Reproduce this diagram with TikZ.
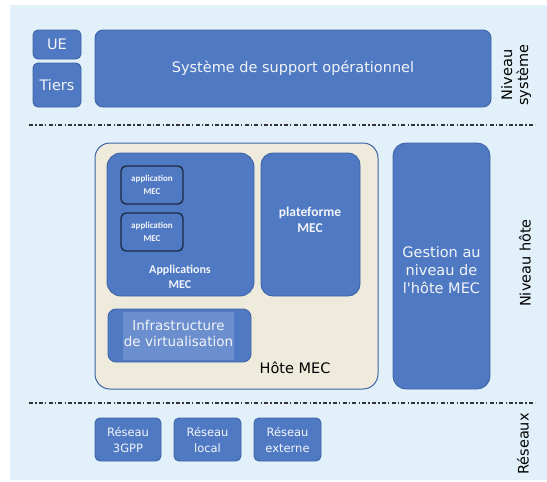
\documentclass[tikz,border=0pt]{standalone}
\usepackage{fontspec}
\setmainfont{DejaVu Sans}
\newfontfamily\droitfont{DejaVu Sans}
\newfontfamily\calfont{Carlito}
\usetikzlibrary{positioning}

\definecolor{fondbleu}{HTML}{E2F1F9}
\definecolor{bleubloc}{HTML}{4F7AC3}
\definecolor{bordbloc}{HTML}{3E63A6}
\definecolor{beigehote}{HTML}{EEEBDC}
\definecolor{bleuclair}{HTML}{6A8ECE}
\definecolor{texteblanc}{HTML}{F2F4F8}
\definecolor{bordsombre}{HTML}{1E2A40}

\begin{document}
\begin{tikzpicture}[
    x=1pt, y=-1pt,
    every node/.style={inner sep=0pt, outer sep=0pt},
    bloc/.style={draw=bordbloc, fill=bleubloc, line width=0.9pt,
                 rounded corners=8pt, text=texteblanc, align=center,
                 font=\fontsize{14.5}{18}\selectfont},
    petitbloc/.style={bloc, rounded corners=5pt},
    appbloc/.style={bloc, draw=bordsombre, line width=1.4pt, rounded corners=5pt,
                    font=\calfont\bfseries\fontsize{9}{12.5}\selectfont},
    titrebloc/.style={text=texteblanc, align=center},
    niveau/.style={rotate=90, align=center, font=\fontsize{14.5}{16}\selectfont},
    separation/.style={draw=black!80, line width=1.1pt,
                       dash pattern=on 4pt off 2.2pt on 1.4pt off 2.2pt}
]
\useasboundingbox (0,0) rectangle (547,482);

% fond
\fill[fondbleu] (10,5) rectangle (547,480);

% Niveau systeme
\node[petitbloc, minimum width=48pt, minimum height=29pt] (ue) at (57,44.5) {UE};
\node[petitbloc, minimum width=48pt, minimum height=44pt] (tiers) at (57,85) {Tiers};
\node[bloc, minimum width=396pt, minimum height=77pt] (sso) at (293,68.5)
    {Système de support opérationnel};
\node[niveau] (nsys) at (516,75) {Niveau\\système};

% Separations
\coordinate (sepA) at (29,125);
\coordinate (sepB) at (535,125);
\coordinate (sepC) at (29,403);
\coordinate (sepD) at (535,403);
\draw[separation] (sepA) -- (sepB);
\draw[separation] (sepC) -- (sepD);

% Niveau hote
\node[draw=bordbloc, fill=beigehote, line width=1pt, rounded corners=15pt,
      minimum width=283pt, minimum height=246pt] (hote) at (236.5,266) {};
\node[font=\fontsize{14.5}{18}\selectfont] (thote) at (295,368) {Hôte MEC};

\node[bloc, rounded corners=14pt, minimum width=147pt, minimum height=143pt] (apps) at (180.5,224.5) {};
\node[titrebloc, font=\calfont\bfseries\fontsize{12}{15}\selectfont] (tapps) at (180,277)
    {Applications\\MEC};
\node[appbloc, minimum width=62pt, minimum height=38pt] (app1) at (152,185) {application\\MEC};
\node[appbloc, minimum width=62pt, minimum height=38pt] (app2) at (152,232) {application\\MEC};

\node[bloc, rounded corners=12pt, minimum width=99pt, minimum height=143pt] (plat) at (310.5,224.5) {};
\node[titrebloc, font=\calfont\bfseries\fontsize{13.5}{16.5}\selectfont] (tplat) at (310,220)
    {plateforme\\MEC};

\node[bloc, rounded corners=8pt, minimum width=143pt, minimum height=53pt] (infra) at (179.5,335.5) {};
\fill[bleuclair] (123,312) rectangle (234,360);
\node[titrebloc, font=\fontsize{13.5}{16}\selectfont] (tinfra) at (178.5,333)
    {Infrastructure\\de virtualisation};

\node[bloc, rounded corners=13pt, minimum width=97pt, minimum height=246pt] (gestion) at (441.5,266) {};
\node[titrebloc, font=\droitfont\fontsize{14.5}{18}\selectfont] (tgestion) at (441.5,270)
    {Gestion au\\niveau de\\l'hôte MEC};
\node[niveau] (nhote) at (525,263) {Niveau hôte};

% Reseaux
\node[petitbloc, font=\fontsize{11.5}{16}\selectfont, minimum width=66pt, minimum height=43pt]
    (r3gpp) at (128,439.5) {Réseau\\3GPP};
\node[petitbloc, font=\fontsize{11.5}{16}\selectfont, minimum width=67pt, minimum height=43pt]
    (rlocal) at (207.5,439.5) {Réseau\\local};
\node[petitbloc, font=\fontsize{11.5}{16}\selectfont, minimum width=67pt, minimum height=43pt]
    (rext) at (287.5,439.5) {Réseau\\externe};
\node[niveau] (nres) at (523,444) {Réseaux};

\end{tikzpicture}
\end{document}
